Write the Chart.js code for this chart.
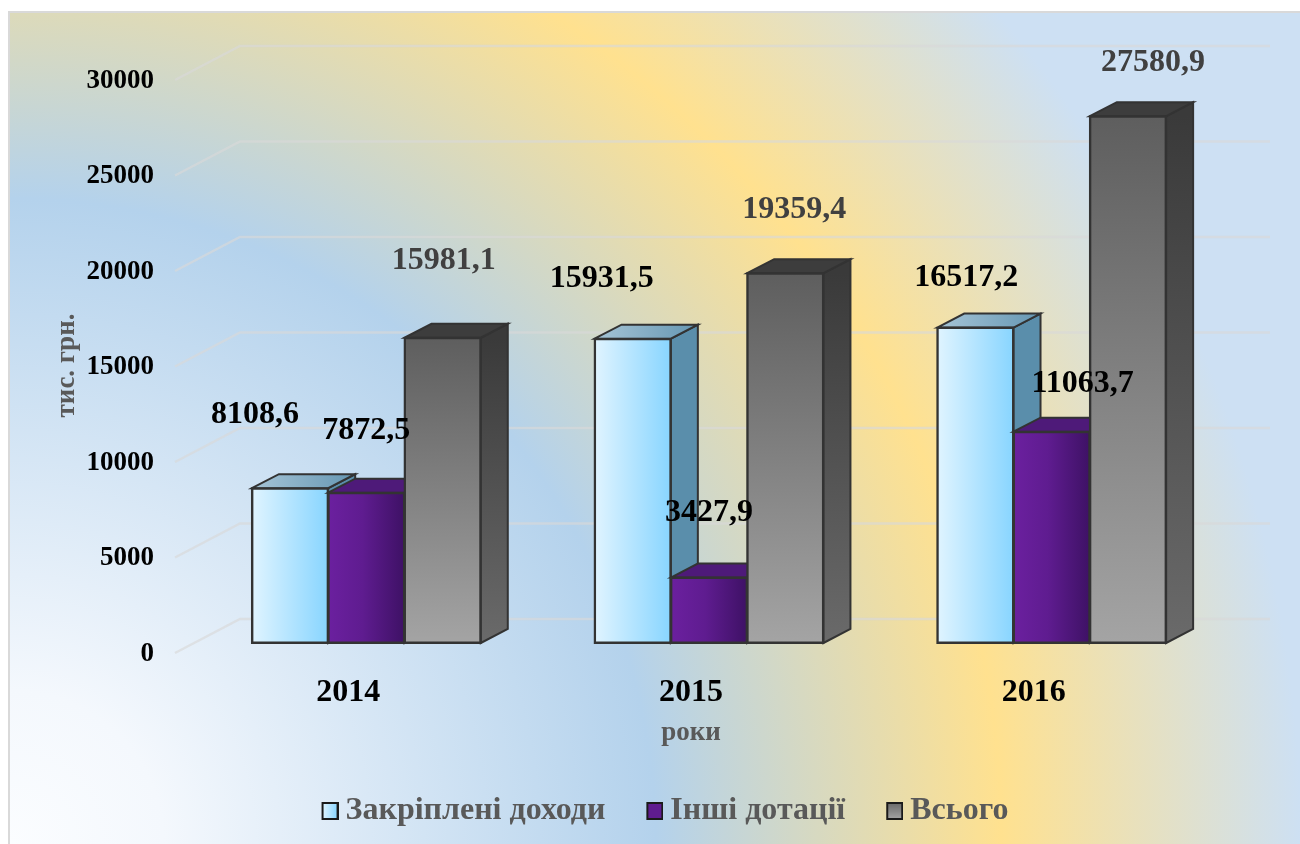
<!DOCTYPE html>
<html>
<head>
<meta charset="utf-8">
<title>Доходи</title>
<script src="https://cdn.jsdelivr.net/npm/chart.js@4"></script>
<style>
    body{margin:0;background:#fff;overflow:hidden;}
    #frame{
        position:absolute;left:8px;top:11px;right:0;bottom:0;
        border-left:2px solid #d9d9d9;border-top:2px solid #d9d9d9;
        background:radial-gradient(circle 1537px at 0 100%,#fbfdff 0%,#f4f8fd 10%,#b4d2ec 42%,#ffe18f 64.5%,#cde0f3 84%,#cde0f3 100%);
    }
    canvas{position:absolute;left:0;top:0;}
</style>
</head>
<body>
<div id="frame"></div>
<canvas id="chart" width="1300" height="844"></canvas>
<script>
const years = ["2014","2015","2016"];
const seriesNames = ["Закріплені доходи","Інші дотації","Всього"];
const fixedIncome = [8108.6,15931.5,16517.2];
const otherGrants = [7872.5,3427.9,11063.7];
const totals = [15981.1,19359.4,27580.9];
const yTicksMax = 30000;
const yTicksStep = 5000;
const xTitle = "роки";
const yTitle = "тис. грн.";

// label text is placed relative to top of its bar, [dx,dy] per series and year
const labelShift = [
    [[-35,-73],[-31,-60],[-9,-50]],
    [[0,-62],[0,-65],[31,-48]],
    [[1,-77],[9,-64],[25,-53]]
];
const labelColors = ["#000","#000","#404040"];

const SERIF = "'Liberation Serif'";
const depthX = 27, depthY = 14;

function fmt(v){
    return v.toFixed(1).replace(".",",");
}

// bar front gradients, set in afterDatasetsUpdate
function frontGradient(ctx,i,bar){
    let left = bar.x-bar.width/2, right = bar.x+bar.width/2;
    let g;
    if(i==2){
        g = ctx.createLinearGradient(0,bar.y,0,bar.base);
        g.addColorStop(0,"#5e5e5e");
        g.addColorStop(1,"#a4a4a4");
    }else if(i==1){
        g = ctx.createLinearGradient(left,0,right,0);
        g.addColorStop(0,"#6b209f");
        g.addColorStop(0.45,"#5f1c90");
        g.addColorStop(1,"#3e1165");
    }else{
        g = ctx.createLinearGradient(left,0,right,0);
        g.addColorStop(0,"#e0f4ff");
        g.addColorStop(1,"#88d5ff");
    }
    return g;
}

function drawFace(ctx,pts,fill){
    ctx.beginPath();
    ctx.moveTo(pts[0][0],pts[0][1]);
    for(let i=1;i<pts.length;i++){
        ctx.lineTo(pts[i][0],pts[i][1]);
    }
    ctx.closePath();
    ctx.fillStyle = fill;
    ctx.fill();
    ctx.lineWidth = 2;
    ctx.strokeStyle = "#333";
    ctx.stroke();
}

function drawDepth(ctx,i,bar){
    let l = bar.x-bar.width/2, r = bar.x+bar.width/2, t = bar.y, b = bar.base;
    let side, top;
    if(i==2){
        side = ctx.createLinearGradient(0,t,0,b);
        side.addColorStop(0,"#3a3a3a");
        side.addColorStop(1,"#6a6a6a");
        top = "#3d3d3d";
    }else if(i==1){
        side = "#3f1264";
        top = "#4e1a79";
    }else{
        side = "#5a8eab";
        top = ctx.createLinearGradient(l,0,r+depthX,0);
        top.addColorStop(0,"#a6c4d6");
        top.addColorStop(1,"#6597b3");
    }
    drawFace(ctx,[[r,t],[r+depthX,t-depthY],[r+depthX,b-depthY],[r,b]],side);
    drawFace(ctx,[[l,t],[l+depthX,t-depthY],[r+depthX,t-depthY],[r,t]],top);
}

// chart.js paints the first dataset last, here we need it the other way round
const bars3d = {
    id:"bars3d",
    afterDatasetsUpdate(chart){
        chart.data.datasets.forEach((d,i)=>{
            chart.getDatasetMeta(i).data.forEach(bar=>{
                bar.options = Object.assign({},bar.options,{backgroundColor:frontGradient(chart.ctx,i,bar)});
            });
        });
    },
    beforeDatasetsDraw(chart){
        chart.data.datasets.forEach((d,i)=>{
            let meta = chart.getDatasetMeta(i);
            meta.data.forEach(bar=>drawDepth(chart.ctx,i,bar));
            meta.controller.draw();
        });
    },
    beforeDatasetDraw(){
        return false;
    }
};

// back wall lines with the short piece going to the front
const wallGrid = {
    id:"wallGrid",
    beforeDatasetsDraw(chart){
        let ctx = chart.ctx;
        let y = chart.scales.y;
        ctx.save();
        ctx.strokeStyle = "rgba(217,217,217,0.65)";
        ctx.lineWidth = 2.5;
        y.ticks.forEach(t=>{
            let py = y.getPixelForValue(t.value);
            ctx.beginPath();
            ctx.moveTo(chart.chartArea.left-20,py+10);
            ctx.lineTo(chart.chartArea.left+45,py-24);
            ctx.lineTo(chart.chartArea.right+47,py-24);
            ctx.stroke();
        });
        ctx.restore();
    }
};

const valueLabels = {
    id:"valueLabels",
    afterDatasetsDraw(chart){
        let ctx = chart.ctx;
        ctx.save();
        ctx.font = "bold 32px "+SERIF;
        ctx.textAlign = "center";
        ctx.textBaseline = "middle";
        chart.data.datasets.forEach((d,i)=>{
            chart.getDatasetMeta(i).data.forEach((bar,j)=>{
                ctx.fillStyle = labelColors[i];
                ctx.fillText(fmt(d.data[j]),bar.x+labelShift[i][j][0],bar.y+labelShift[i][j][1]);
            });
        });
        ctx.restore();
    }
};

const axisTitles = {
    id:"axisTitles",
    afterDraw(chart){
        let ctx = chart.ctx;
        let a = chart.chartArea;
        ctx.save();
        ctx.font = "bold 27px "+SERIF;
        ctx.fillStyle = "#595959";
        ctx.textAlign = "center";
        ctx.textBaseline = "middle";
        ctx.fillText(xTitle,(a.left+a.right)/2-18,733);
        ctx.translate(67,(a.top+a.bottom)/2+9);
        ctx.rotate(-Math.PI/2);
        ctx.fillText(yTitle,0,0);
        ctx.restore();
    }
};

// the legend sits further right than the y axis box starts
const legendShift = {
    id:"legendShift",
    afterLayout(chart){
        chart.legend.left = 107;
    }
};

// swatch as small canvas, so it can sit close to the text (legend gap is font size/2)
function legendSwatch(i){
    let c = document.createElement("canvas");
    c.width = 26;
    c.height = 20;
    let s = c.getContext("2d");
    let g;
    if(i==0){
        g = s.createLinearGradient(10,0,25,0);
        g.addColorStop(0,"#e0f4ff");
        g.addColorStop(1,"#88d5ff");
    }else if(i==1){
        g = "#5f1c90";
    }else{
        g = s.createLinearGradient(0,2,0,18);
        g.addColorStop(0,"#6a6a6a");
        g.addColorStop(1,"#a4a4a4");
    }
    s.fillStyle = g;
    s.fillRect(10,2,15,16);
    s.lineWidth = 2;
    s.strokeStyle = "#1a1a1a";
    s.strokeRect(10,2,15,16);
    return c;
}

let cxt = document.getElementById("chart");
let dataSets = [fixedIncome,otherGrants,totals].map((vals,i)=>({
    label:seriesNames[i],
    data:vals,
    backgroundColor:"#888",
    borderColor:"#333",
    borderWidth:2.5,
    borderSkipped:false,
    inflateAmount:1,
    barPercentage:1,
    categoryPercentage:0.668
}));

new Chart(cxt,{
    type:"bar",
    data:{labels:years,datasets:dataSets},
    plugins:[wallGrid,bars3d,valueLabels,axisTitles,legendShift],
    options:{
        responsive:false,
        animation:false,
        layout:{padding:{left:60,right:77,top:70,bottom:7}},
        plugins:{
            tooltip:{enabled:false},
            legend:{
                position:"bottom",
                labels:{
                    usePointStyle:true,
                    boxWidth:8,
                    boxHeight:18,
                    padding:41,
                    color:"#595959",
                    font:{family:SERIF,size:32,weight:"bold"},
                    generateLabels(chart){
                        return seriesNames.map((n,i)=>({
                            text:n,
                            pointStyle:legendSwatch(i),
                            fontColor:"#595959",
                            datasetIndex:i
                        }));
                    }
                }
            }
        },
        scales:{
            x:{
                grid:{display:false},
                border:{display:false},
                afterFit(s){s.height = 111;},
                ticks:{
                    color:"#000",
                    padding:23,
                    labelOffset:-18,
                    maxRotation:0,
                    font:{family:SERIF,size:32,weight:"bold"}
                }
            },
            y:{
                min:0,
                max:yTicksMax,
                grid:{display:false},
                border:{display:false},
                afterFit(s){s.width = 135;},
                ticks:{
                    stepSize:yTicksStep,
                    color:"#000",
                    padding:33,
                    labelOffset:11,
                    callback:v=>v,
                    font:{family:SERIF,size:27,weight:"bold"}
                }
            }
        }
    }
});
</script>
</body>
</html>
